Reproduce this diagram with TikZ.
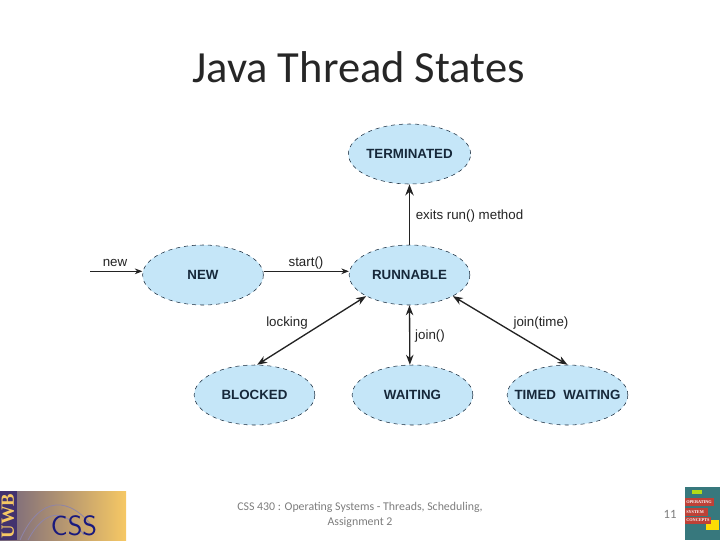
\documentclass[tikz,border=0pt]{standalone}
\usepackage{fontspec}
\setmainfont{Liberation Sans}
\newfontfamily\slidefont{Carlito}
\newfontfamily\bookfont{Liberation Serif}
\usetikzlibrary{arrows.meta,shapes.geometric,positioning}
\definecolor{statefill}{RGB}{197,230,248}
\definecolor{stateink}{RGB}{22,40,58}
\definecolor{linkink}{RGB}{35,35,35}
\definecolor{footgray}{RGB}{125,125,125}
\definecolor{logopurple}{RGB}{66,50,110}
\definecolor{logomauve}{RGB}{115,100,125}
\definecolor{logotan}{RGB}{178,150,115}
\definecolor{logogold}{RGB}{246,200,100}
\definecolor{logoblue}{RGB}{25,25,125}
\definecolor{bookteal}{RGB}{55,120,125}
\definecolor{bookred}{RGB}{190,65,55}
\tikzset{
  state/.style={ellipse,draw=stateink,dashed,fill=statefill,inner sep=0pt,
                minimum width=90.5pt,minimum height=45pt,
                text=stateink,font=\fontsize{10}{12}\selectfont\bfseries},
  arrow/.style={-Stealth,line width=0.6pt,linkink},
  thickarrow/.style={-Stealth,line width=1.2pt,linkink},
  bothways/.style={Stealth-Stealth,line width=1pt,linkink},
  linklabel/.style={text=linkink,inner sep=0pt,font=\fontsize{10}{12}\selectfont},
  footer/.style={text=footgray,inner sep=0pt,align=center,
                 font=\slidefont\fontsize{8.9}{10.8}\selectfont},
}
\begin{document}
\begin{tikzpicture}[x=0.75pt,y=-0.75pt]
    \useasboundingbox (0,0) rectangle (720,540);

    % Title
    \node[inner sep=0pt,text=black!85,font=\slidefont\fontsize{33.4}{38}\selectfont] (title) at (358.5,67) {Java Thread States};

    % States
    \node[state] (terminated) at (409.5,154) {TERMINATED};
    \node[state] (runnable) at (409.5,275) {RUNNABLE};
    \node[state] (new) at (203,275) {NEW};
    \node[state] (blocked) at (254.5,395) {BLOCKED};
    \node[state] (waiting) at (412.5,395) {WAITING};
    \node[state] (timed) at (567.5,395) {\makebox[0pt]{TIMED\ \ WAITING}};

    % Connectors
    \coordinate (entry) at (90,271.3);
    \draw[arrow] (entry) -- (entry -| new.west);
    \draw[arrow] (new.east |- entry) -- (runnable.west |- entry);
    \draw[thickarrow] (runnable.north) -- (terminated.south);
    \draw[bothways] (blocked.85) -- (runnable.206.9);
    \draw[bothways] (waiting.95.3) -- (runnable.south);
    \draw[bothways] (timed.north) -- (runnable.334.4);

    % Labels
    \node[linklabel] (newlabel) at (115,263) {new};
    \node[linklabel] (startlabel) at (306,263) {start()};
    \node[linklabel] (exitslabel) at (469.5,216) {exits run() method};
    \node[linklabel] (lockinglabel) at (287,323) {locking};
    \node[linklabel] (joinlabel) at (430,336) {join()};
    \node[linklabel] (timelabel) at (541,323) {join(time)};

    % Footer
    \node[footer] (foot) at (360,515) {CSS 430 : Operating Systems - Threads, Scheduling,\\Assignment 2};
    \node[footer,font=\slidefont\fontsize{9.5}{11}\selectfont] (pagenum) at (670,514) {11};

    % Left logo
    \fill[left color=logomauve,middle color=logotan,right color=logogold] (0,491) rectangle (126,540);
    \fill[logopurple] (0,491) rectangle (17,540);
    \draw[logopurple!60,line width=0.6pt] (20,540) .. controls (40,495) and (70,495) .. (95,530);
    \draw[logopurple!60,line width=0.6pt] (28,540) .. controls (45,508) and (65,508) .. (84,535);
    \node[rotate=90,text=logogold,inner sep=0pt,font=\bookfont\fontsize{14}{14}\selectfont\bfseries] (uwb) at (8,516) {UWB};
    \node[text=logoblue,inner sep=0pt,font=\sffamily\fontsize{21}{21}\selectfont] (css) at (74,526) {CSS};

    % Right logo
    \fill[bookteal] (685,487) rectangle (720,540);
    \fill[yellow!70!green] (692,490) rectangle (702,494);
    \fill[yellow!80!orange] (706,520) rectangle (719,530);
    \fill[bookred] (685,498) rectangle (714,506);
    \fill[bookred] (685,508) rectangle (708,516);
    \fill[bookred] (685,517) rectangle (711,524);
    \node[text=white,inner sep=0pt,font=\bookfont\fontsize{3.2}{4}\selectfont\bfseries,anchor=west] (booka) at (686,502) {OPERATING};
    \node[text=white,inner sep=0pt,font=\bookfont\fontsize{3.2}{4}\selectfont\bfseries,anchor=west] (bookb) at (686,512) {SYSTEM};
    \node[text=white,inner sep=0pt,font=\bookfont\fontsize{3.2}{4}\selectfont\bfseries,anchor=west] (bookc) at (686,520.5) {CONCEPTS};

\end{tikzpicture}
\end{document}
